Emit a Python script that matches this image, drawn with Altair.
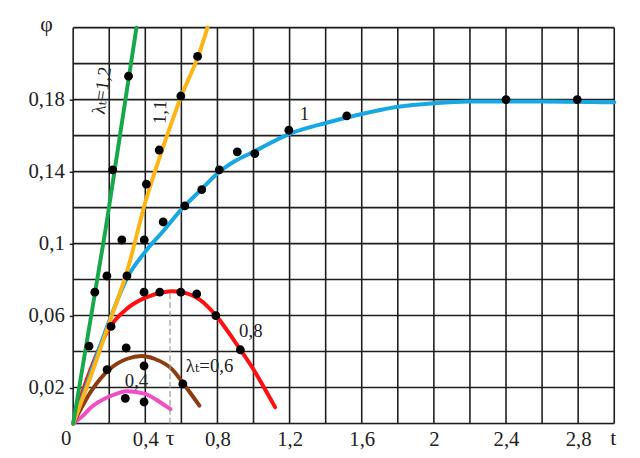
import altair as alt
import pandas as pd

# ---- curves (t, phi) ----
green_t = [0.0, 0.18, 0.351]
green_phi = [0.0, 0.108, 0.22]

orange_t = [0.0, 0.1, 0.2, 0.3, 0.4, 0.5, 0.6, 0.7, 0.745]
orange_phi = [0.0, 0.027, 0.056, 0.085, 0.123, 0.154, 0.182, 0.206, 0.22]

blue_t = [0.0, 0.1, 0.2, 0.3, 0.4, 0.5, 0.6, 0.7, 0.8, 0.9, 1.0, 1.2, 1.4, 1.6, 1.8, 2.0, 2.2, 2.6, 3.0]
blue_phi = [0.0, 0.029, 0.057, 0.081, 0.0955, 0.107, 0.119, 0.129, 0.139, 0.146, 0.151, 0.161, 0.167, 0.172, 0.176, 0.178, 0.179, 0.179, 0.1785]

red_t = [0.0, 0.05, 0.1, 0.2, 0.3, 0.4, 0.5, 0.55, 0.6, 0.7, 0.8, 0.9, 1.0, 1.12]
red_phi = [0.0, 0.017, 0.031, 0.053, 0.064, 0.070, 0.073, 0.0735, 0.073, 0.069, 0.059, 0.045, 0.030, 0.009]

brown_t = [0.0, 0.1, 0.2, 0.3, 0.38, 0.45, 0.55, 0.62, 0.70]
brown_phi = [0.0, 0.018, 0.030, 0.036, 0.0375, 0.036, 0.030, 0.021, 0.010]

pink_t = [0.0, 0.05, 0.1, 0.2, 0.3, 0.4, 0.48, 0.54]
pink_phi = [0.0, 0.004, 0.009, 0.015, 0.018, 0.0165, 0.012, 0.008]

# ---- experimental points ----
pts_t = [0.307, 0.219, 0.69, 0.597, 0.477, 0.406, 0.499, 0.619, 0.713, 0.81, 0.91, 1.007,
         1.196, 1.517, 2.40, 2.795, 0.27, 0.394, 0.187, 0.298, 0.12, 0.393, 0.48, 0.597,
         0.685, 0.791, 0.21, 0.927, 0.088, 0.294, 0.393, 0.188, 0.608, 0.289, 0.393]
pts_phi = [0.193, 0.141, 0.204, 0.182, 0.152, 0.133, 0.112, 0.121, 0.130, 0.141, 0.151, 0.150,
           0.163, 0.171, 0.180, 0.180, 0.102, 0.102, 0.082, 0.082, 0.073, 0.073, 0.073, 0.073,
           0.072, 0.060, 0.054, 0.041, 0.043, 0.042, 0.032, 0.030, 0.022, 0.014, 0.012]

# ---- axes / grid ----
grid_t = [round(i * 0.2, 1) for i in range(16)]
grid_phi = [round(i * 0.02, 2) for i in range(12)]
x_labels = [0.4, 0.8, 1.2, 1.6, 2, 2.4, 2.8]
y_labels = [0.02, 0.06, 0.1, 0.14, 0.18]
tau = 0.537
tau_top = 0.0735

# ---- curve annotations ----
ann_text = ["λₜ=1,2", "1,1", "1", "0,8", "λₜ=0,6", "0,4"]
ann_t = [0.159, 0.482, 1.282, 0.985, 0.756, 0.351]
ann_phi = [0.185, 0.173, 0.172, 0.0515, 0.0318, 0.0236]
ann_angle = [278, 272, 0, 0, 0, 0]

SERIF = "Liberation Serif, Times New Roman, DejaVu Serif, serif"

xs = alt.Scale(domain=[0, 3.0], nice=False, zero=False)
ys = alt.Scale(domain=[0, 0.22], nice=False, zero=False)
xaxis = alt.Axis(values=x_labels, format=".1~f", labelExpr="replace(datum.label, '.', ',')",
                 grid=False, domain=False, ticks=False, labelFont=SERIF, labelFontSize=21,
                 labelColor="#222", labelPadding=5, title=None)
yaxis = alt.Axis(values=y_labels, format=".2~f", labelExpr="replace(datum.label, '.', ',')",
                 grid=False, domain=False, ticks=True, tickSize=4, tickColor="#222", tickWidth=1.5,
                 labelFont=SERIF, labelFontSize=21, labelColor="#222", labelPadding=5, title=None)
X = alt.X("t:Q", scale=xs, axis=xaxis)
Y = alt.Y("phi:Q", scale=ys, axis=yaxis)

vgrid = alt.Chart(pd.DataFrame({"t": grid_t})).mark_rule(color="#1e1e1e", strokeWidth=1.6).encode(x=X)
hgrid = alt.Chart(pd.DataFrame({"phi": grid_phi})).mark_rule(color="#1e1e1e", strokeWidth=1.6).encode(y=Y)

def curve(ts, ps, color):
    return alt.Chart(pd.DataFrame({"t": ts, "phi": ps})).mark_line(
        color=color, strokeWidth=4, interpolate="monotone", strokeCap="round"
    ).encode(x=X, y=Y)

curves = [
    curve(pink_t, pink_phi, "#f24cc6"),
    curve(brown_t, brown_phi, "#8e3b10"),
    curve(red_t, red_phi, "#ff1010"),
    curve(blue_t, blue_phi, "#17a7e2"),
    curve(orange_t, orange_phi, "#fdb515"),
    curve(green_t, green_phi, "#17a84c"),
]

tau_df = pd.DataFrame({"t": [tau], "phi": [0.0], "phi2": [tau_top]})
tau_line = alt.Chart(tau_df).mark_rule(color="#9a9a9a", strokeWidth=1.2, strokeDash=[6, 3]).encode(
    x=X, y=Y, y2="phi2:Q")

points = alt.Chart(pd.DataFrame({"t": pts_t, "phi": pts_phi})).mark_circle(
    color="#000", opacity=1, size=80).encode(x=X, y=Y)

ann = alt.Chart(pd.DataFrame({"t": ann_t, "phi": ann_phi, "label": ann_text, "angle": ann_angle})).mark_text(
    font=SERIF, fontSize=19, color="#222", align="center", baseline="middle").encode(
    x=X, y=Y, text="label:N", angle=alt.Angle("angle:Q", scale=None))

phi_lbl = alt.Chart(pd.DataFrame({"s": ["φ"]})).mark_text(
    font=SERIF, fontSize=22, color="#222", align="center", baseline="middle").encode(
    x=alt.value(-27), y=alt.value(-4), text="s:N")
t_lbl = alt.Chart(pd.DataFrame({"s": ["t"]})).mark_text(
    font=SERIF, fontSize=22, color="#222", align="center", baseline="middle").encode(
    x=alt.value(547), y=alt.value(416), text="s:N")
zero_lbl = alt.Chart(pd.DataFrame({"s": ["0"]})).mark_text(
    font=SERIF, fontSize=21, color="#222", align="center", baseline="middle").encode(
    x=alt.value(-7), y=alt.value(417), text="s:N")
tau_lbl = alt.Chart(pd.DataFrame({"t": [tau], "s": ["τ"]})).mark_text(
    font=SERIF, fontSize=22, color="#222", align="center", baseline="middle").encode(
    x=X, y=alt.value(416), text="s:N")

chart = alt.layer(
    vgrid, hgrid, *curves, tau_line, points, ann, phi_lbl, t_lbl, zero_lbl, tau_lbl
).properties(
    width=548, height=401,
    autosize=alt.AutoSizeParams(type="none"),
    padding={"left": 66, "top": 17, "right": 18, "bottom": 32},
).configure_view(stroke=None).configure(background="white")

chart.save("out.html", embed_options={"renderer": "svg", "actions": False})
